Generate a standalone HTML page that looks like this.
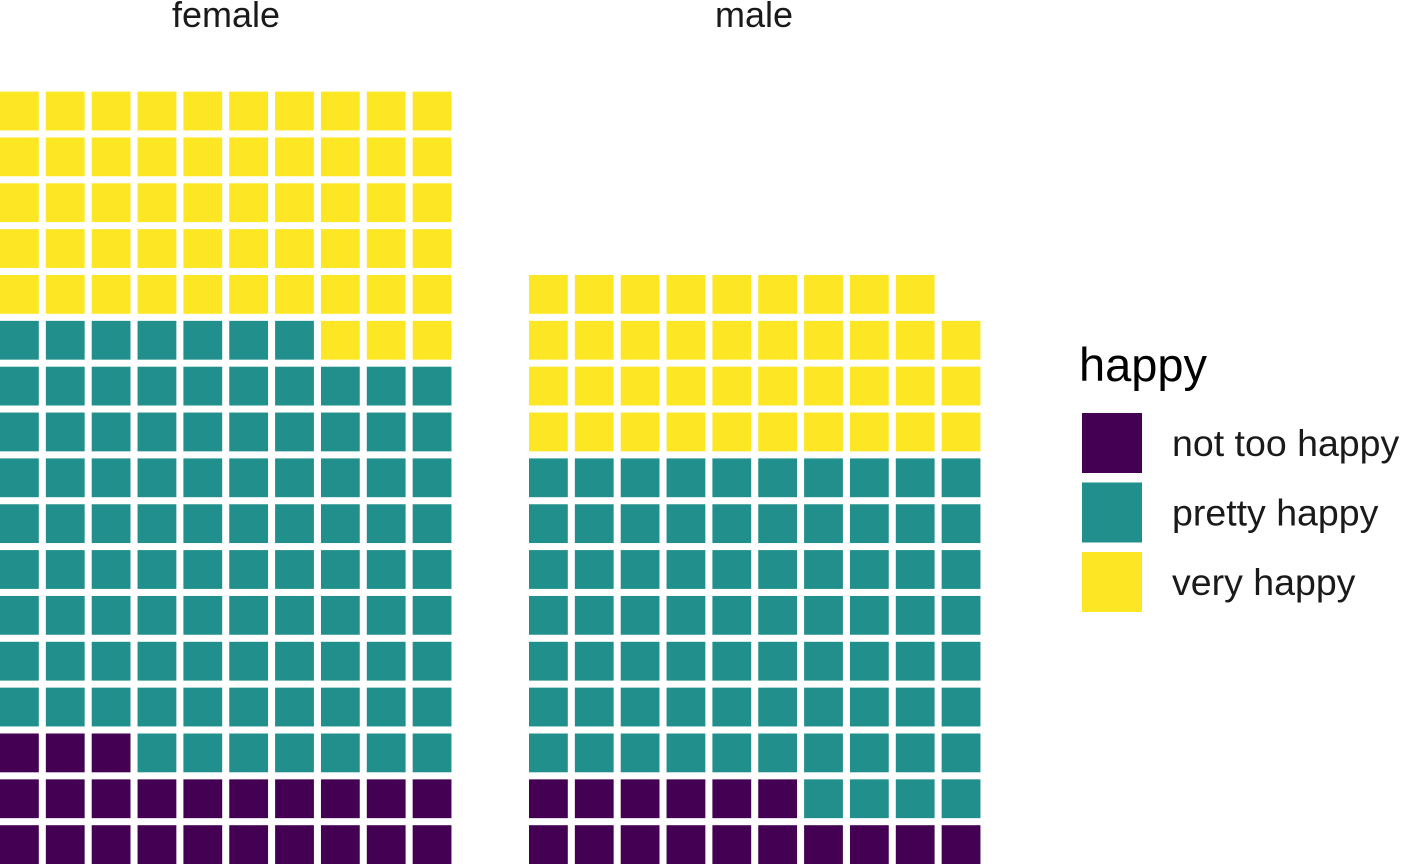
<!DOCTYPE html>
<html><head><meta charset="utf-8"><style>
body{margin:0;background:#fff;}
svg{display:block;font-family:"Liberation Sans",sans-serif;}
</style></head><body>
<svg id="chart" width="1402" height="864"></svg>
<script>
const groups = ["female","male"];
const categories = ["not too happy","pretty happy","very happy"];
const femaleCounts = [23,94,53];
const maleCounts = [16,74,39];
const colors = ["#440154","#21908C","#FDE725"];

const svg = document.getElementById('chart');
const NS = "http://www.w3.org/2000/svg";
const pitch = 45.85, tile = 38.8, cols = 10, bottom = 864;
const panelX = [0, 529];
const countsByGroup = [femaleCounts, maleCounts];
const titleX = [226, 754];

function cellX(px, i){ return px + (i % cols) * pitch; }
function cellY(i){ return bottom - tile - Math.floor(i / cols) * pitch; }

groups.forEach((g, gi) => {
  const t = document.createElementNS(NS, 'text');
  
  
  t.setAttribute('x', titleX[gi]); t.setAttribute('y', 27);
  t.setAttribute('text-anchor', 'middle'); t.setAttribute('font-size', '36');
  t.setAttribute('fill', '#1a1a1a');
  t.textContent = g;
  svg.appendChild(t);
  let idx = 0;
  countsByGroup[gi].forEach((n, ci) => {
    for (let k = 0; k < n; k++, idx++) {
      const r = document.createElementNS(NS, 'rect');
      
      
      r.setAttribute('x', cellX(panelX[gi], idx));
      r.setAttribute('y', cellY(idx));
      r.setAttribute('width', tile); r.setAttribute('height', tile);
      r.setAttribute('fill', colors[ci]);
      svg.appendChild(r);
    }
  });
});

const lt = document.createElementNS(NS, 'text');


lt.setAttribute('x', 1079); lt.setAttribute('y', 381);
lt.setAttribute('font-size', '47'); lt.setAttribute('fill', '#000');
lt.textContent = 'happy';
svg.appendChild(lt);
categories.forEach((c, i) => {
  const y = 413 + i * 69.5;
  const r = document.createElementNS(NS, 'rect');
  
  
  r.setAttribute('x', 1082); r.setAttribute('y', y);
  r.setAttribute('width', 60); r.setAttribute('height', 60);
  r.setAttribute('fill', colors[i]);
  svg.appendChild(r);
  const t = document.createElementNS(NS, 'text');
  
  
  t.setAttribute('x', 1172); t.setAttribute('y', y + 43);
  t.setAttribute('font-size', '37.5'); t.setAttribute('fill', '#1a1a1a');
  t.textContent = c;
  svg.appendChild(t);
});
</script>
</body></html>
